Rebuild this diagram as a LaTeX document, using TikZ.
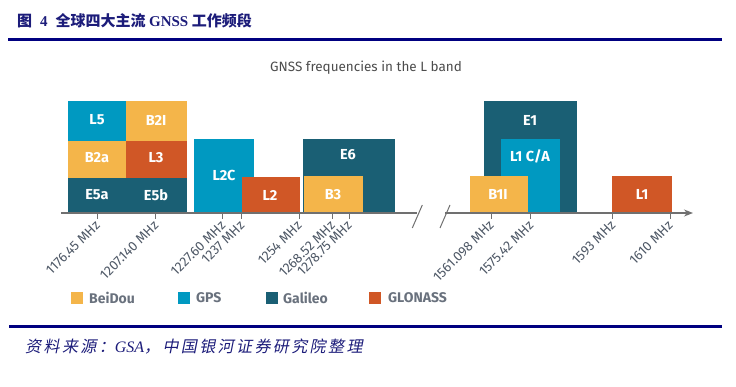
\documentclass[tikz,border=0pt]{standalone}
\usepackage{fontspec}
\setmainfont{Fira Sans}
\newfontfamily\cjk{Noto Sans CJK SC}
\newfontfamily\cjkit{Noto Sans CJK SC}[FakeSlant=0.2, LetterSpace=15]
\newfontfamily\tms{Liberation Serif}
\usetikzlibrary{arrows.meta}

\definecolor{beidou}{HTML}{F4B54A}
\definecolor{gps}{HTML}{0099C1}
\definecolor{galileo}{HTML}{1A5F74}
\definecolor{glonass}{HTML}{D05726}
\definecolor{rulenavy}{HTML}{000080}
\definecolor{titlenavy}{HTML}{1C1C7A}
\definecolor{axisgray}{HTML}{707070}
\definecolor{txtgray}{HTML}{4E5866}

\begin{document}
\begin{tikzpicture}[x=1pt, y=-1pt,
    band/.style = {draw=white, line width=0.9pt},
    lbl/.style = {text=white, font=\fontsize{14.5}{15}\selectfont\bfseries},
    freq/.style = {text=txtgray, font=\fontsize{13.5}{14}\selectfont, rotate=45, anchor=east, inner sep=0pt},
    tick/.style = {axisgray, line width=1pt},
    axis/.style = {axisgray, line width=1.2pt},
    key/.style = {minimum size=12pt, inner sep=0pt},
    keytext/.style = {text=txtgray!85, font=\fontsize{14}{15}\selectfont\bfseries, anchor=west, inner sep=0pt}]
    \useasboundingbox (0,0) rectangle (736,387);

    % title and rules
    \node[anchor=west, inner sep=0pt, text=titlenavy] (title) at (17,21)
        {\cjk\fontsize{15}{16}\selectfont\bfseries 图\hspace{8pt}{\tms\bfseries 4}\hspace{8pt}全球四大主流 {\tms\bfseries GNSS} 工作频段};
    \draw[rulenavy, line width=3pt] (8,39.5) -- (722,39.5);
    \node[text=black!70, font=\fontsize{13.5}{14}\selectfont] (sub) at (366,68) {GNSS frequencies in the L band};

    % bands
    \fill[band, galileo] (68,177) rectangle (126.5,213);
    \fill[band, galileo] (126.5,177) rectangle (186,213);
    \fill[band, beidou] (68,140) rectangle (126.5,177);
    \fill[band, glonass] (126.5,140) rectangle (186,177);
    \fill[band, gps] (68,101) rectangle (126.5,140);
    \fill[band, beidou] (126.5,101) rectangle (186,140);
    \fill[band, gps] (194,139) rectangle (253,213);
    \fill[band, glonass] (242,177) rectangle (299,213);
    \fill[band, galileo] (303,139) rectangle (394,213);
    \fill[band, beidou] (304,176) rectangle (362,213);
    \fill[band, galileo] (484,101) rectangle (576,213);
    \fill[band, gps] (501,139) rectangle (559,213);
    \fill[band, beidou] (470,176) rectangle (527,213);
    \fill[band, glonass] (612.7,176) rectangle (671,213);

    \node[lbl] (L5) at (97,120) {L5};
    \node[lbl] (B2I) at (156,120) {B2I};
    \node[lbl] (B2a) at (97,158) {B2a};
    \node[lbl] (L3) at (156,158) {L3};
    \node[lbl] (E5a) at (97,195) {E5a};
    \node[lbl] (E5b) at (156,195) {E5b};
    \node[lbl] (L2C) at (224,175) {L2C};
    \node[lbl] (L2) at (270,195) {L2};
    \node[lbl] (E6) at (348,155) {E6};
    \node[lbl] (B3) at (333,195) {B3};
    \node[lbl] (E1) at (530,120) {E1};
    \node[lbl] (L1CA) at (530,156) {L1 C/A};
    \node[lbl] (B1I) at (498,194) {B1I};
    \node[lbl] (L1) at (642,194) {L1};

    % axis with break
    \coordinate (a0) at (61,213);
    \coordinate (a1) at (417,213);
    \coordinate (a2) at (445,213);
    \coordinate (a3) at (693,213);
    \draw[axis] (a0) -- (a1);
    \draw[axis, -{Stealth[length=9pt, width=7pt]}] (a2) -- (a3);
    \draw[axisgray, line width=1pt] (412.3,228) -- (422.3,205);
    \draw[axisgray, line width=1pt] (440,228) -- (450,205);

    % ticks
    \foreach \x/\f [count=\i] in {97.3/1176.45 MHz, 155.7/1207.140 MHz, 222.7/1227.60 MHz,
        241.7/1237 MHz, 299/1254 MHz, 332.3/1268.52 MHz, 349/1278.75 MHz,
        491/1561.098 MHz, 530.7/1575.42 MHz, 612.7/1593 MHz, 670/1610 MHz} {
        \draw[tick] (\x,213) -- (\x,219.5);
        \node[freq] (f\i) at (\x+0.5,223) {\f};
    }

    % legend
    \node[key, fill=beidou] (k1) at (77,298) {};
    \node[keytext] (t1) at (89,298) {BeiDou};
    \node[key, fill=gps] (k2) at (184,298) {};
    \node[keytext] (t2) at (196,298) {GPS};
    \node[key, fill=galileo] (k3) at (272,298) {};
    \node[keytext] (t3) at (283,298) {Galileo};
    \node[key, fill=glonass] (k4) at (375,298) {};
    \node[keytext] (t4) at (388,298) {GLONASS};

    % source
    \draw[rulenavy, line width=2.5pt] (9,326.5) -- (722,326.5);
    \node[anchor=west, inner sep=0pt, text=titlenavy] (src) at (25,347)
        {\cjkit\fontsize{16}{17}\selectfont 资料来源：{\tms\itshape GSA}，中国银河证券研究院整理};
\end{tikzpicture}
\end{document}
